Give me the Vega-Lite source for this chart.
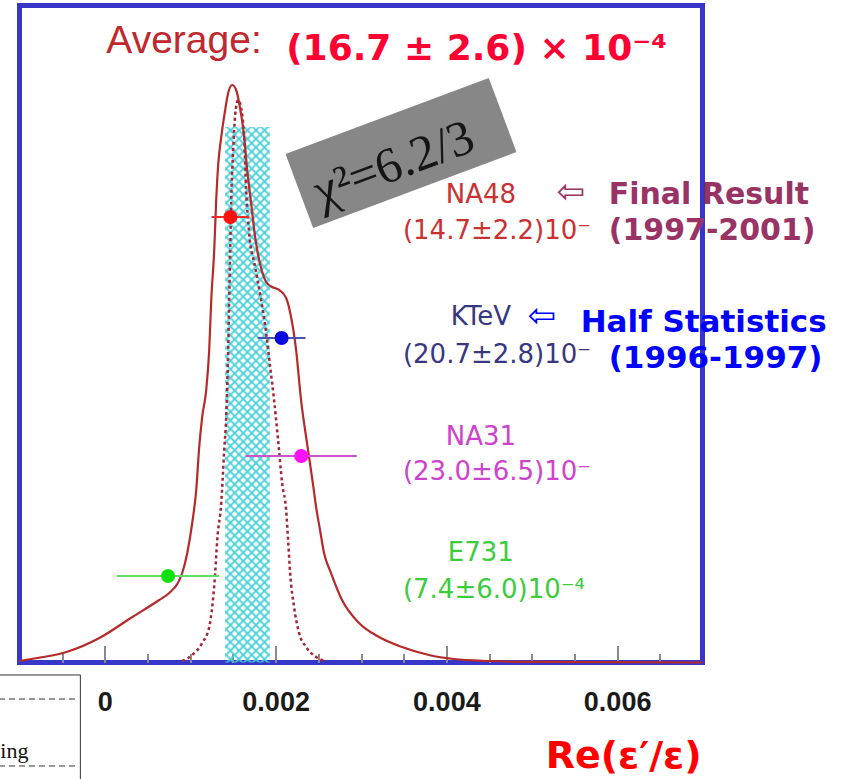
{
"$schema": "https://vega.github.io/schema/vega-lite/v6.json",
"width": 683, "height": 657,
"autosize": {"type": "none"},
"padding": {"left": 19.5, "top": 5.5, "right": 144.5, "bottom": 116.5},
"background": "#ffffff",
"config": {
  "view": {"stroke": "#3636c8", "strokeWidth": 5}
},
"datasets": {
  "band": [{"lo": 0.00141, "hi": 0.00193, "top": 0.815}],
  "solid": [
    {"x":-0.001,"y":0.0023},{"x":-0.000789,"y":0.0068},{"x":-0.00045,"y":0.016},{"x":-0.000064,"y":0.0373},
    {"x":0.000322,"y":0.0693},{"x":0.000637,"y":0.0951},{"x":0.000754,"y":0.1058},{"x":0.000848,"y":0.1195},
    {"x":0.000906,"y":0.1362},{"x":0.000965,"y":0.1667},{"x":0.001023,"y":0.2123},{"x":0.00107,"y":0.2626},
    {"x":0.001105,"y":0.328},{"x":0.00114,"y":0.3737},{"x":0.001187,"y":0.4148},{"x":0.001222,"y":0.4756},
    {"x":0.001246,"y":0.5518},{"x":0.001281,"y":0.6279},{"x":0.001304,"y":0.704},{"x":0.001327,"y":0.7572},
    {"x":0.001363,"y":0.7998},{"x":0.001409,"y":0.841},{"x":0.001444,"y":0.8668},{"x":0.001491,"y":0.879},
    {"x":0.001538,"y":0.8714},{"x":0.001573,"y":0.8516},{"x":0.001632,"y":0.7998},{"x":0.001667,"y":0.7496},
    {"x":0.001713,"y":0.6994},{"x":0.001749,"y":0.6583},{"x":0.001784,"y":0.6279},{"x":0.00183,"y":0.6005},
    {"x":0.001889,"y":0.5791},{"x":0.001959,"y":0.5715},{"x":0.002041,"y":0.567},{"x":0.002123,"y":0.5548},
    {"x":0.002181,"y":0.5259},{"x":0.00224,"y":0.4756},{"x":0.002298,"y":0.3995},{"x":0.002345,"y":0.3539},
    {"x":0.002392,"y":0.3128},{"x":0.002439,"y":0.2702},{"x":0.002474,"y":0.2367},{"x":0.00252,"y":0.2017},
    {"x":0.002567,"y":0.1667},{"x":0.002649,"y":0.1362},{"x":0.002778,"y":0.0951},{"x":0.002977,"y":0.0601},
    {"x":0.003211,"y":0.0388},{"x":0.00348,"y":0.0236},{"x":0.003795,"y":0.0114},{"x":0.004088,"y":0.0053},
    {"x":0.004497,"y":0.0023},{"x":0.005082,"y":0.0008},{"x":0.007,"y":0.0}
  ],
  "dotted": [
    {"x":0.000906,"y":0.0023},{"x":0.001023,"y":0.0114},{"x":0.00114,"y":0.0297},{"x":0.001222,"y":0.054},
    {"x":0.001257,"y":0.0845},{"x":0.001292,"y":0.1362},{"x":0.001316,"y":0.1865},{"x":0.001363,"y":0.2428},
    {"x":0.001398,"y":0.3234},{"x":0.001421,"y":0.3737},{"x":0.001444,"y":0.4756},{"x":0.001456,"y":0.5518},
    {"x":0.001468,"y":0.6279},{"x":0.00148,"y":0.704},{"x":0.001503,"y":0.78},{"x":0.001526,"y":0.8333},
    {"x":0.001561,"y":0.8562},{"x":0.001596,"y":0.844},{"x":0.001632,"y":0.7953},{"x":0.001655,"y":0.7192},
    {"x":0.00169,"y":0.6537},{"x":0.00176,"y":0.602},{"x":0.00183,"y":0.5518},{"x":0.001889,"y":0.5015},
    {"x":0.001936,"y":0.4498},{"x":0.001982,"y":0.3995},{"x":0.002029,"y":0.3387},{"x":0.002076,"y":0.2732},
    {"x":0.002123,"y":0.2321},{"x":0.002146,"y":0.1865},{"x":0.00217,"y":0.1362},{"x":0.002216,"y":0.0845},
    {"x":0.002275,"y":0.0449},{"x":0.002357,"y":0.0236},{"x":0.002474,"y":0.0084},{"x":0.002567,"y":0.0023}
  ],
  "exp": [
    {"exp":"NA48","value":0.00147,"lo":0.00125,"hi":0.00169,"y":0.678},
    {"exp":"KTeV","value":0.00207,"lo":0.00179,"hi":0.00235,"y":0.4939},
    {"exp":"NA31","value":0.0023,"lo":0.00165,"hi":0.00295,"y":0.3143},
    {"exp":"E731","value":0.00074,"lo":0.00014,"hi":0.00134,"y":0.1317}
  ],
  "names": [
    {"exp":"NA48","label":"NA48","x":0.004404,"y":0.7116},
    {"exp":"KTeV","label":"KTeV","x":0.004404,"y":0.5259},
    {"exp":"NA31","label":"NA31","x":0.004404,"y":0.3432},
    {"exp":"E731","label":"E731","x":0.004404,"y":0.1667}
  ],
  "vals": [
    {"exp":"NA48","label":"(14.7±2.2)10⁻","x":0.003491,"y":0.6568},
    {"exp":"KTeV","label":"(20.7±2.8)10⁻","x":0.003491,"y":0.468},
    {"exp":"NA31","label":"(23.0±6.5)10⁻","x":0.003491,"y":0.29},
    {"exp":"E731","label":"(7.4±6.0)10⁻⁴","x":0.003491,"y":0.1104}
  ]
},
"resolve": {"scale": {"color": "independent"}, "axis": {"x": "independent"}},
"layer": [
  {
    "data": {"name": "band"},
    "mark": {"type": "rect", "strokeWidth": 0, "fill": {"gradient": "linear", "x1": 0, "y1": 1, "x2": 0.0894, "y2": -0.0757, "stops": [
{"offset":0,"color":"#48cfd8"},{"offset":0.0044,"color":"#48cfd800"},{"offset":0.0103,"color":"#48cfd800"},
{"offset":0.0147,"color":"#48cfd8"},{"offset":0.0191,"color":"#48cfd800"},{"offset":0.025,"color":"#48cfd800"},
{"offset":0.0294,"color":"#48cfd8"},{"offset":0.0338,"color":"#48cfd800"},{"offset":0.0397,"color":"#48cfd800"},
{"offset":0.0441,"color":"#48cfd8"},{"offset":0.0485,"color":"#48cfd800"},{"offset":0.0544,"color":"#48cfd800"},
{"offset":0.0588,"color":"#48cfd8"},{"offset":0.0632,"color":"#48cfd800"},{"offset":0.0691,"color":"#48cfd800"},
{"offset":0.0735,"color":"#48cfd8"},{"offset":0.0779,"color":"#48cfd800"},{"offset":0.0838,"color":"#48cfd800"},
{"offset":0.0882,"color":"#48cfd8"},{"offset":0.0926,"color":"#48cfd800"},{"offset":0.0985,"color":"#48cfd800"},
{"offset":0.1029,"color":"#48cfd8"},{"offset":0.1073,"color":"#48cfd800"},{"offset":0.1132,"color":"#48cfd800"},
{"offset":0.1176,"color":"#48cfd8"},{"offset":0.122,"color":"#48cfd800"},{"offset":0.1279,"color":"#48cfd800"},
{"offset":0.1324,"color":"#48cfd8"},{"offset":0.1368,"color":"#48cfd800"},{"offset":0.1427,"color":"#48cfd800"},
{"offset":0.1471,"color":"#48cfd8"},{"offset":0.1515,"color":"#48cfd800"},{"offset":0.1574,"color":"#48cfd800"},
{"offset":0.1618,"color":"#48cfd8"},{"offset":0.1662,"color":"#48cfd800"},{"offset":0.1721,"color":"#48cfd800"},
{"offset":0.1765,"color":"#48cfd8"},{"offset":0.1809,"color":"#48cfd800"},{"offset":0.1868,"color":"#48cfd800"},
{"offset":0.1912,"color":"#48cfd8"},{"offset":0.1956,"color":"#48cfd800"},{"offset":0.2015,"color":"#48cfd800"},
{"offset":0.2059,"color":"#48cfd8"},{"offset":0.2103,"color":"#48cfd800"},{"offset":0.2162,"color":"#48cfd800"},
{"offset":0.2206,"color":"#48cfd8"},{"offset":0.225,"color":"#48cfd800"},{"offset":0.2309,"color":"#48cfd800"},
{"offset":0.2353,"color":"#48cfd8"},{"offset":0.2397,"color":"#48cfd800"},{"offset":0.2456,"color":"#48cfd800"},
{"offset":0.25,"color":"#48cfd8"},{"offset":0.2544,"color":"#48cfd800"},{"offset":0.2603,"color":"#48cfd800"},
{"offset":0.2647,"color":"#48cfd8"},{"offset":0.2691,"color":"#48cfd800"},{"offset":0.275,"color":"#48cfd800"},
{"offset":0.2794,"color":"#48cfd8"},{"offset":0.2838,"color":"#48cfd800"},{"offset":0.2897,"color":"#48cfd800"},
{"offset":0.2941,"color":"#48cfd8"},{"offset":0.2985,"color":"#48cfd800"},{"offset":0.3044,"color":"#48cfd800"},
{"offset":0.3088,"color":"#48cfd8"},{"offset":0.3132,"color":"#48cfd800"},{"offset":0.3191,"color":"#48cfd800"},
{"offset":0.3235,"color":"#48cfd8"},{"offset":0.3279,"color":"#48cfd800"},{"offset":0.3338,"color":"#48cfd800"},
{"offset":0.3382,"color":"#48cfd8"},{"offset":0.3426,"color":"#48cfd800"},{"offset":0.3485,"color":"#48cfd800"},
{"offset":0.3529,"color":"#48cfd8"},{"offset":0.3573,"color":"#48cfd800"},{"offset":0.3632,"color":"#48cfd800"},
{"offset":0.3676,"color":"#48cfd8"},{"offset":0.372,"color":"#48cfd800"},{"offset":0.3779,"color":"#48cfd800"},
{"offset":0.3824,"color":"#48cfd8"},{"offset":0.3868,"color":"#48cfd800"},{"offset":0.3927,"color":"#48cfd800"},
{"offset":0.3971,"color":"#48cfd8"},{"offset":0.4015,"color":"#48cfd800"},{"offset":0.4074,"color":"#48cfd800"},
{"offset":0.4118,"color":"#48cfd8"},{"offset":0.4162,"color":"#48cfd800"},{"offset":0.4221,"color":"#48cfd800"},
{"offset":0.4265,"color":"#48cfd8"},{"offset":0.4309,"color":"#48cfd800"},{"offset":0.4368,"color":"#48cfd800"},
{"offset":0.4412,"color":"#48cfd8"},{"offset":0.4456,"color":"#48cfd800"},{"offset":0.4515,"color":"#48cfd800"},
{"offset":0.4559,"color":"#48cfd8"},{"offset":0.4603,"color":"#48cfd800"},{"offset":0.4662,"color":"#48cfd800"},
{"offset":0.4706,"color":"#48cfd8"},{"offset":0.475,"color":"#48cfd800"},{"offset":0.4809,"color":"#48cfd800"},
{"offset":0.4853,"color":"#48cfd8"},{"offset":0.4897,"color":"#48cfd800"},{"offset":0.4956,"color":"#48cfd800"},
{"offset":0.5,"color":"#48cfd8"},{"offset":0.5044,"color":"#48cfd800"},{"offset":0.5103,"color":"#48cfd800"},
{"offset":0.5147,"color":"#48cfd8"},{"offset":0.5191,"color":"#48cfd800"},{"offset":0.525,"color":"#48cfd800"},
{"offset":0.5294,"color":"#48cfd8"},{"offset":0.5338,"color":"#48cfd800"},{"offset":0.5397,"color":"#48cfd800"},
{"offset":0.5441,"color":"#48cfd8"},{"offset":0.5485,"color":"#48cfd800"},{"offset":0.5544,"color":"#48cfd800"},
{"offset":0.5588,"color":"#48cfd8"},{"offset":0.5632,"color":"#48cfd800"},{"offset":0.5691,"color":"#48cfd800"},
{"offset":0.5735,"color":"#48cfd8"},{"offset":0.5779,"color":"#48cfd800"},{"offset":0.5838,"color":"#48cfd800"},
{"offset":0.5882,"color":"#48cfd8"},{"offset":0.5926,"color":"#48cfd800"},{"offset":0.5985,"color":"#48cfd800"},
{"offset":0.6029,"color":"#48cfd8"},{"offset":0.6073,"color":"#48cfd800"},{"offset":0.6132,"color":"#48cfd800"},
{"offset":0.6176,"color":"#48cfd8"},{"offset":0.622,"color":"#48cfd800"},{"offset":0.6279,"color":"#48cfd800"},
{"offset":0.6324,"color":"#48cfd8"},{"offset":0.6368,"color":"#48cfd800"},{"offset":0.6427,"color":"#48cfd800"},
{"offset":0.6471,"color":"#48cfd8"},{"offset":0.6515,"color":"#48cfd800"},{"offset":0.6574,"color":"#48cfd800"},
{"offset":0.6618,"color":"#48cfd8"},{"offset":0.6662,"color":"#48cfd800"},{"offset":0.6721,"color":"#48cfd800"},
{"offset":0.6765,"color":"#48cfd8"},{"offset":0.6809,"color":"#48cfd800"},{"offset":0.6868,"color":"#48cfd800"},
{"offset":0.6912,"color":"#48cfd8"},{"offset":0.6956,"color":"#48cfd800"},{"offset":0.7015,"color":"#48cfd800"},
{"offset":0.7059,"color":"#48cfd8"},{"offset":0.7103,"color":"#48cfd800"},{"offset":0.7162,"color":"#48cfd800"},
{"offset":0.7206,"color":"#48cfd8"},{"offset":0.725,"color":"#48cfd800"},{"offset":0.7309,"color":"#48cfd800"},
{"offset":0.7353,"color":"#48cfd8"},{"offset":0.7397,"color":"#48cfd800"},{"offset":0.7456,"color":"#48cfd800"},
{"offset":0.75,"color":"#48cfd8"},{"offset":0.7544,"color":"#48cfd800"},{"offset":0.7603,"color":"#48cfd800"},
{"offset":0.7647,"color":"#48cfd8"},{"offset":0.7691,"color":"#48cfd800"},{"offset":0.775,"color":"#48cfd800"},
{"offset":0.7794,"color":"#48cfd8"},{"offset":0.7838,"color":"#48cfd800"},{"offset":0.7897,"color":"#48cfd800"},
{"offset":0.7941,"color":"#48cfd8"},{"offset":0.7985,"color":"#48cfd800"},{"offset":0.8044,"color":"#48cfd800"},
{"offset":0.8088,"color":"#48cfd8"},{"offset":0.8132,"color":"#48cfd800"},{"offset":0.8191,"color":"#48cfd800"},
{"offset":0.8235,"color":"#48cfd8"},{"offset":0.8279,"color":"#48cfd800"},{"offset":0.8338,"color":"#48cfd800"},
{"offset":0.8382,"color":"#48cfd8"},{"offset":0.8426,"color":"#48cfd800"},{"offset":0.8485,"color":"#48cfd800"},
{"offset":0.8529,"color":"#48cfd8"},{"offset":0.8573,"color":"#48cfd800"},{"offset":0.8632,"color":"#48cfd800"},
{"offset":0.8676,"color":"#48cfd8"},{"offset":0.872,"color":"#48cfd800"},{"offset":0.8779,"color":"#48cfd800"},
{"offset":0.8824,"color":"#48cfd8"},{"offset":0.8868,"color":"#48cfd800"},{"offset":0.8927,"color":"#48cfd800"},
{"offset":0.8971,"color":"#48cfd8"},{"offset":0.9015,"color":"#48cfd800"},{"offset":0.9074,"color":"#48cfd800"},
{"offset":0.9118,"color":"#48cfd8"},{"offset":0.9162,"color":"#48cfd800"},{"offset":0.9221,"color":"#48cfd800"},
{"offset":0.9265,"color":"#48cfd8"},{"offset":0.9309,"color":"#48cfd800"},{"offset":0.9368,"color":"#48cfd800"},
{"offset":0.9412,"color":"#48cfd8"},{"offset":0.9456,"color":"#48cfd800"},{"offset":0.9515,"color":"#48cfd800"},
{"offset":0.9559,"color":"#48cfd8"},{"offset":0.9603,"color":"#48cfd800"},{"offset":0.9662,"color":"#48cfd800"},
{"offset":0.9706,"color":"#48cfd8"},{"offset":0.975,"color":"#48cfd800"},{"offset":0.9809,"color":"#48cfd800"},
{"offset":0.9853,"color":"#48cfd8"},{"offset":0.9897,"color":"#48cfd800"},{"offset":0.9956,"color":"#48cfd800"},
{"offset":1,"color":"#48cfd8"}]}},
    "encoding": {
      "x": {"field": "lo", "type": "quantitative", "scale": {"domain": [-0.001, 0.007], "nice": false, "zero": false},
        "axis": {"orient": "bottom", "values": [0, 0.002, 0.004, 0.006], "format": ".3~f", "domain": false, "grid": false,
          "tickSize": -17, "tickWidth": 2, "tickColor": "#8a8a8a", "labelFont": "Liberation Sans", "labelFontWeight": "bold", "labelFontSize": 27,
          "labelColor": "#1a1a1a", "labelBaseline": "middle", "labelPadding": 56.5, "labelFlush": false, "title": null}},
      "x2": {"field": "hi"},
      "y": {"field": "top", "type": "quantitative", "scale": {"domain": [0, 1], "nice": false, "zero": false}, "axis": null},
      "y2": {"datum": 0}
    }
  },
  {
    "data": {"name": "band"},
    "mark": {"type": "rect", "strokeWidth": 0, "fill": {"gradient": "linear", "x1": 0, "y1": 0, "x2": 0.0894, "y2": 1.0757, "stops": [
{"offset":0,"color":"#48cfd8"},{"offset":0.0044,"color":"#48cfd800"},{"offset":0.0103,"color":"#48cfd800"},
{"offset":0.0147,"color":"#48cfd8"},{"offset":0.0191,"color":"#48cfd800"},{"offset":0.025,"color":"#48cfd800"},
{"offset":0.0294,"color":"#48cfd8"},{"offset":0.0338,"color":"#48cfd800"},{"offset":0.0397,"color":"#48cfd800"},
{"offset":0.0441,"color":"#48cfd8"},{"offset":0.0485,"color":"#48cfd800"},{"offset":0.0544,"color":"#48cfd800"},
{"offset":0.0588,"color":"#48cfd8"},{"offset":0.0632,"color":"#48cfd800"},{"offset":0.0691,"color":"#48cfd800"},
{"offset":0.0735,"color":"#48cfd8"},{"offset":0.0779,"color":"#48cfd800"},{"offset":0.0838,"color":"#48cfd800"},
{"offset":0.0882,"color":"#48cfd8"},{"offset":0.0926,"color":"#48cfd800"},{"offset":0.0985,"color":"#48cfd800"},
{"offset":0.1029,"color":"#48cfd8"},{"offset":0.1073,"color":"#48cfd800"},{"offset":0.1132,"color":"#48cfd800"},
{"offset":0.1176,"color":"#48cfd8"},{"offset":0.122,"color":"#48cfd800"},{"offset":0.1279,"color":"#48cfd800"},
{"offset":0.1324,"color":"#48cfd8"},{"offset":0.1368,"color":"#48cfd800"},{"offset":0.1427,"color":"#48cfd800"},
{"offset":0.1471,"color":"#48cfd8"},{"offset":0.1515,"color":"#48cfd800"},{"offset":0.1574,"color":"#48cfd800"},
{"offset":0.1618,"color":"#48cfd8"},{"offset":0.1662,"color":"#48cfd800"},{"offset":0.1721,"color":"#48cfd800"},
{"offset":0.1765,"color":"#48cfd8"},{"offset":0.1809,"color":"#48cfd800"},{"offset":0.1868,"color":"#48cfd800"},
{"offset":0.1912,"color":"#48cfd8"},{"offset":0.1956,"color":"#48cfd800"},{"offset":0.2015,"color":"#48cfd800"},
{"offset":0.2059,"color":"#48cfd8"},{"offset":0.2103,"color":"#48cfd800"},{"offset":0.2162,"color":"#48cfd800"},
{"offset":0.2206,"color":"#48cfd8"},{"offset":0.225,"color":"#48cfd800"},{"offset":0.2309,"color":"#48cfd800"},
{"offset":0.2353,"color":"#48cfd8"},{"offset":0.2397,"color":"#48cfd800"},{"offset":0.2456,"color":"#48cfd800"},
{"offset":0.25,"color":"#48cfd8"},{"offset":0.2544,"color":"#48cfd800"},{"offset":0.2603,"color":"#48cfd800"},
{"offset":0.2647,"color":"#48cfd8"},{"offset":0.2691,"color":"#48cfd800"},{"offset":0.275,"color":"#48cfd800"},
{"offset":0.2794,"color":"#48cfd8"},{"offset":0.2838,"color":"#48cfd800"},{"offset":0.2897,"color":"#48cfd800"},
{"offset":0.2941,"color":"#48cfd8"},{"offset":0.2985,"color":"#48cfd800"},{"offset":0.3044,"color":"#48cfd800"},
{"offset":0.3088,"color":"#48cfd8"},{"offset":0.3132,"color":"#48cfd800"},{"offset":0.3191,"color":"#48cfd800"},
{"offset":0.3235,"color":"#48cfd8"},{"offset":0.3279,"color":"#48cfd800"},{"offset":0.3338,"color":"#48cfd800"},
{"offset":0.3382,"color":"#48cfd8"},{"offset":0.3426,"color":"#48cfd800"},{"offset":0.3485,"color":"#48cfd800"},
{"offset":0.3529,"color":"#48cfd8"},{"offset":0.3573,"color":"#48cfd800"},{"offset":0.3632,"color":"#48cfd800"},
{"offset":0.3676,"color":"#48cfd8"},{"offset":0.372,"color":"#48cfd800"},{"offset":0.3779,"color":"#48cfd800"},
{"offset":0.3824,"color":"#48cfd8"},{"offset":0.3868,"color":"#48cfd800"},{"offset":0.3927,"color":"#48cfd800"},
{"offset":0.3971,"color":"#48cfd8"},{"offset":0.4015,"color":"#48cfd800"},{"offset":0.4074,"color":"#48cfd800"},
{"offset":0.4118,"color":"#48cfd8"},{"offset":0.4162,"color":"#48cfd800"},{"offset":0.4221,"color":"#48cfd800"},
{"offset":0.4265,"color":"#48cfd8"},{"offset":0.4309,"color":"#48cfd800"},{"offset":0.4368,"color":"#48cfd800"},
{"offset":0.4412,"color":"#48cfd8"},{"offset":0.4456,"color":"#48cfd800"},{"offset":0.4515,"color":"#48cfd800"},
{"offset":0.4559,"color":"#48cfd8"},{"offset":0.4603,"color":"#48cfd800"},{"offset":0.4662,"color":"#48cfd800"},
{"offset":0.4706,"color":"#48cfd8"},{"offset":0.475,"color":"#48cfd800"},{"offset":0.4809,"color":"#48cfd800"},
{"offset":0.4853,"color":"#48cfd8"},{"offset":0.4897,"color":"#48cfd800"},{"offset":0.4956,"color":"#48cfd800"},
{"offset":0.5,"color":"#48cfd8"},{"offset":0.5044,"color":"#48cfd800"},{"offset":0.5103,"color":"#48cfd800"},
{"offset":0.5147,"color":"#48cfd8"},{"offset":0.5191,"color":"#48cfd800"},{"offset":0.525,"color":"#48cfd800"},
{"offset":0.5294,"color":"#48cfd8"},{"offset":0.5338,"color":"#48cfd800"},{"offset":0.5397,"color":"#48cfd800"},
{"offset":0.5441,"color":"#48cfd8"},{"offset":0.5485,"color":"#48cfd800"},{"offset":0.5544,"color":"#48cfd800"},
{"offset":0.5588,"color":"#48cfd8"},{"offset":0.5632,"color":"#48cfd800"},{"offset":0.5691,"color":"#48cfd800"},
{"offset":0.5735,"color":"#48cfd8"},{"offset":0.5779,"color":"#48cfd800"},{"offset":0.5838,"color":"#48cfd800"},
{"offset":0.5882,"color":"#48cfd8"},{"offset":0.5926,"color":"#48cfd800"},{"offset":0.5985,"color":"#48cfd800"},
{"offset":0.6029,"color":"#48cfd8"},{"offset":0.6073,"color":"#48cfd800"},{"offset":0.6132,"color":"#48cfd800"},
{"offset":0.6176,"color":"#48cfd8"},{"offset":0.622,"color":"#48cfd800"},{"offset":0.6279,"color":"#48cfd800"},
{"offset":0.6324,"color":"#48cfd8"},{"offset":0.6368,"color":"#48cfd800"},{"offset":0.6427,"color":"#48cfd800"},
{"offset":0.6471,"color":"#48cfd8"},{"offset":0.6515,"color":"#48cfd800"},{"offset":0.6574,"color":"#48cfd800"},
{"offset":0.6618,"color":"#48cfd8"},{"offset":0.6662,"color":"#48cfd800"},{"offset":0.6721,"color":"#48cfd800"},
{"offset":0.6765,"color":"#48cfd8"},{"offset":0.6809,"color":"#48cfd800"},{"offset":0.6868,"color":"#48cfd800"},
{"offset":0.6912,"color":"#48cfd8"},{"offset":0.6956,"color":"#48cfd800"},{"offset":0.7015,"color":"#48cfd800"},
{"offset":0.7059,"color":"#48cfd8"},{"offset":0.7103,"color":"#48cfd800"},{"offset":0.7162,"color":"#48cfd800"},
{"offset":0.7206,"color":"#48cfd8"},{"offset":0.725,"color":"#48cfd800"},{"offset":0.7309,"color":"#48cfd800"},
{"offset":0.7353,"color":"#48cfd8"},{"offset":0.7397,"color":"#48cfd800"},{"offset":0.7456,"color":"#48cfd800"},
{"offset":0.75,"color":"#48cfd8"},{"offset":0.7544,"color":"#48cfd800"},{"offset":0.7603,"color":"#48cfd800"},
{"offset":0.7647,"color":"#48cfd8"},{"offset":0.7691,"color":"#48cfd800"},{"offset":0.775,"color":"#48cfd800"},
{"offset":0.7794,"color":"#48cfd8"},{"offset":0.7838,"color":"#48cfd800"},{"offset":0.7897,"color":"#48cfd800"},
{"offset":0.7941,"color":"#48cfd8"},{"offset":0.7985,"color":"#48cfd800"},{"offset":0.8044,"color":"#48cfd800"},
{"offset":0.8088,"color":"#48cfd8"},{"offset":0.8132,"color":"#48cfd800"},{"offset":0.8191,"color":"#48cfd800"},
{"offset":0.8235,"color":"#48cfd8"},{"offset":0.8279,"color":"#48cfd800"},{"offset":0.8338,"color":"#48cfd800"},
{"offset":0.8382,"color":"#48cfd8"},{"offset":0.8426,"color":"#48cfd800"},{"offset":0.8485,"color":"#48cfd800"},
{"offset":0.8529,"color":"#48cfd8"},{"offset":0.8573,"color":"#48cfd800"},{"offset":0.8632,"color":"#48cfd800"},
{"offset":0.8676,"color":"#48cfd8"},{"offset":0.872,"color":"#48cfd800"},{"offset":0.8779,"color":"#48cfd800"},
{"offset":0.8824,"color":"#48cfd8"},{"offset":0.8868,"color":"#48cfd800"},{"offset":0.8927,"color":"#48cfd800"},
{"offset":0.8971,"color":"#48cfd8"},{"offset":0.9015,"color":"#48cfd800"},{"offset":0.9074,"color":"#48cfd800"},
{"offset":0.9118,"color":"#48cfd8"},{"offset":0.9162,"color":"#48cfd800"},{"offset":0.9221,"color":"#48cfd800"},
{"offset":0.9265,"color":"#48cfd8"},{"offset":0.9309,"color":"#48cfd800"},{"offset":0.9368,"color":"#48cfd800"},
{"offset":0.9412,"color":"#48cfd8"},{"offset":0.9456,"color":"#48cfd800"},{"offset":0.9515,"color":"#48cfd800"},
{"offset":0.9559,"color":"#48cfd8"},{"offset":0.9603,"color":"#48cfd800"},{"offset":0.9662,"color":"#48cfd800"},
{"offset":0.9706,"color":"#48cfd8"},{"offset":0.975,"color":"#48cfd800"},{"offset":0.9809,"color":"#48cfd800"},
{"offset":0.9853,"color":"#48cfd8"},{"offset":0.9897,"color":"#48cfd800"},{"offset":0.9956,"color":"#48cfd800"},
{"offset":1,"color":"#48cfd8"}]}},
    "encoding": {
      "x": {"field": "lo", "type": "quantitative", "axis": null},
      "x2": {"field": "hi"},
      "y": {"field": "top", "type": "quantitative", "axis": null},
      "y2": {"datum": 0}
    }
  },
  {
    "data": {"values": [{"x": 0.003468, "y": 0.7755}]},
    "mark": {"type": "point", "shape": "M-1,-0.364L1,-0.364L1,0.364L-1,0.364Z", "size": 47089, "angle": -20.5, "filled": true, "color": "#878787", "opacity": 1, "strokeWidth": 0},
    "encoding": {
      "x": {"field": "x", "type": "quantitative", "axis": null},
      "y": {"field": "y", "type": "quantitative", "axis": null}
    }
  },
  {
    "data": {"values": [{"label": "χ²=6.2/3", "x": 0.003386, "y": 0.7572}]},
    "mark": {"type": "text", "font": "Liberation Serif", "fontSize": 50, "angle": -20.5, "align": "center", "baseline": "middle", "color": "#151515"},
    "encoding": {
      "x": {"field": "x", "type": "quantitative", "axis": null},
      "y": {"field": "y", "type": "quantitative", "axis": null},
      "text": {"field": "label"}
    }
  },
  {
    "data": {"name": "dotted"},
    "mark": {"type": "line", "interpolate": "monotone", "color": "#a32635", "strokeWidth": 2.5, "strokeDash": [3, 3]},
    "encoding": {
      "x": {"field": "x", "type": "quantitative",
        "axis": {"orient": "bottom", "values": [-0.0005, 0.0005, 0.001, 0.0015, 0.0025, 0.003, 0.0035, 0.0045, 0.005, 0.0055, 0.0065],
          "labels": false, "domain": false, "grid": false, "tickSize": -9, "tickWidth": 2, "tickColor": "#8a8a8a", "title": null}},
      "y": {"field": "y", "type": "quantitative", "axis": null}
    }
  },
  {
    "data": {"name": "solid"},
    "mark": {"type": "line", "interpolate": "monotone", "color": "#b52a2a", "strokeWidth": 2.2},
    "encoding": {
      "x": {"field": "x", "type": "quantitative", "axis": null},
      "y": {"field": "y", "type": "quantitative", "axis": null}
    }
  },
  {
    "data": {"name": "exp"},
    "mark": {"type": "rule", "strokeWidth": 2},
    "encoding": {
      "x": {"field": "lo", "type": "quantitative", "axis": null},
      "x2": {"field": "hi"},
      "y": {"field": "y", "type": "quantitative", "axis": null},
      "color": {"field": "exp", "type": "nominal", "legend": null,
        "scale": {"domain": ["NA48", "KTeV", "NA31", "E731"], "range": ["#ee2b2b", "#5050b0", "#cc55cc", "#66dd66"]}}
    }
  },
  {
    "data": {"name": "exp"},
    "mark": {"type": "point", "shape": "circle", "filled": true, "size": 200, "opacity": 1},
    "encoding": {
      "x": {"field": "value", "type": "quantitative", "axis": null},
      "y": {"field": "y", "type": "quantitative", "axis": null},
      "color": {"field": "exp", "type": "nominal", "legend": null,
        "scale": {"domain": ["NA48", "KTeV", "NA31", "E731"], "range": ["#ff1111", "#0a0ae0", "#ff10ff", "#11e011"]}}
    }
  },
  {
    "data": {"name": "names"},
    "mark": {"type": "text", "font": "DejaVu Sans", "fontSize": 26, "align": "center", "baseline": "middle"},
    "encoding": {
      "x": {"field": "x", "type": "quantitative", "axis": null},
      "y": {"field": "y", "type": "quantitative", "axis": null},
      "text": {"field": "label"},
      "color": {"field": "exp", "type": "nominal", "legend": null,
        "scale": {"domain": ["NA48", "KTeV", "NA31", "E731"], "range": ["#c83232", "#383880", "#cc44cc", "#3ccc3c"]}}
    }
  },
  {
    "data": {"name": "vals"},
    "mark": {"type": "text", "font": "DejaVu Sans", "fontSize": 26, "align": "left", "baseline": "middle"},
    "encoding": {
      "x": {"field": "x", "type": "quantitative", "axis": null},
      "y": {"field": "y", "type": "quantitative", "axis": null},
      "text": {"field": "label"},
      "color": {"field": "exp", "type": "nominal", "legend": null,
        "scale": {"domain": ["NA48", "KTeV", "NA31", "E731"], "range": ["#c83232", "#383880", "#cc44cc", "#3ccc3c"]}}
    }
  },
  {
    "data": {"values": [{"label": "Average:", "x": 0.0000175, "y": 0.9277}]},
    "mark": {"type": "text", "font": "Liberation Sans", "fontSize": 39, "align": "left", "baseline": "alphabetic", "color": "#c0282e"},
    "encoding": {
      "x": {"field": "x", "type": "quantitative", "axis": null},
      "y": {"field": "y", "type": "quantitative", "axis": null},
      "text": {"field": "label"}
    }
  },
  {
    "data": {"values": [{"label": "(16.7 ± 2.6) × 10⁻⁴", "x": 0.002123, "y": 0.917}]},
    "mark": {"type": "text", "font": "DejaVu Sans", "fontWeight": "bold", "fontSize": 36, "align": "left", "baseline": "alphabetic", "color": "#ff0033"},
    "encoding": {
      "x": {"field": "x", "type": "quantitative", "axis": null},
      "y": {"field": "y", "type": "quantitative", "axis": null},
      "text": {"field": "label"}
    }
  },
  {
    "data": {"values": [
      {"label": "Final Result", "x": 0.005901, "y": 0.6979},
      {"label": "(1997-2001)", "x": 0.005901, "y": 0.643}
    ]},
    "mark": {"type": "text", "font": "DejaVu Sans", "fontWeight": "bold", "fontSize": 30, "align": "left", "baseline": "alphabetic", "color": "#993366"},
    "encoding": {
      "x": {"field": "x", "type": "quantitative", "axis": null},
      "y": {"field": "y", "type": "quantitative", "axis": null},
      "text": {"field": "label"}
    }
  },
  {
    "data": {"values": [{"label": "⇦", "x": 0.005456, "y": 0.7146}]},
    "mark": {"type": "text", "font": "DejaVu Sans", "fontSize": 34, "align": "center", "baseline": "middle", "color": "#993366"},
    "encoding": {
      "x": {"field": "x", "type": "quantitative", "axis": null},
      "y": {"field": "y", "type": "quantitative", "axis": null},
      "text": {"field": "label"}
    }
  },
  {
    "data": {"values": [
      {"label": "Half Statistics", "x": 0.005573, "y": 0.503},
      {"label": "(1996-1997)", "x": 0.005901, "y": 0.4482}
    ]},
    "mark": {"type": "text", "font": "DejaVu Sans", "fontWeight": "bold", "fontSize": 31, "align": "left", "baseline": "alphabetic", "color": "#0000ff"},
    "encoding": {
      "x": {"field": "x", "type": "quantitative", "axis": null},
      "y": {"field": "y", "type": "quantitative", "axis": null},
      "text": {"field": "label"}
    }
  },
  {
    "data": {"values": [{"label": "⇦", "x": 0.005117, "y": 0.5259}]},
    "mark": {"type": "text", "font": "DejaVu Sans", "fontSize": 34, "align": "center", "baseline": "middle", "color": "#0000ff"},
    "encoding": {
      "x": {"field": "x", "type": "quantitative", "axis": null},
      "y": {"field": "y", "type": "quantitative", "axis": null},
      "text": {"field": "label"}
    }
  },
  {
    "data": {"values": [{"label": "Re(ε′/ε)", "x": 0.006076, "y": -0.1438}]},
    "mark": {"type": "text", "font": "DejaVu Sans", "fontWeight": "bold", "fontSize": 38, "align": "center", "baseline": "middle", "color": "#ff0000"},
    "encoding": {
      "x": {"field": "x", "type": "quantitative", "axis": null},
      "y": {"field": "y", "type": "quantitative", "axis": null},
      "text": {"field": "label"}
    }
  },
  {
    "data": {"values": [
      {"x": -0.00124, "x2": -0.000287, "y": -0.019, "y2": -0.019},
      {"x": -0.000287, "x2": -0.000287, "y": -0.019, "y2": -0.178}
    ]},
    "mark": {"type": "rule", "color": "#333333", "strokeWidth": 1},
    "encoding": {
      "x": {"field": "x", "type": "quantitative", "axis": null},
      "x2": {"field": "x2"},
      "y": {"field": "y", "type": "quantitative", "axis": null},
      "y2": {"field": "y2"}
    }
  },
  {
    "data": {"values": [
      {"x": -0.00124, "x2": -0.000345, "y": -0.0556, "y2": -0.0556},
      {"x": -0.00124, "x2": -0.000345, "y": -0.1575, "y2": -0.1575}
    ]},
    "mark": {"type": "rule", "color": "#333333", "strokeWidth": 1, "strokeDash": [6, 4]},
    "encoding": {
      "x": {"field": "x", "type": "quantitative", "axis": null},
      "x2": {"field": "x2"},
      "y": {"field": "y", "type": "quantitative", "axis": null},
      "y2": {"field": "y2"}
    }
  },
  {
    "data": {"values": [{"label": "ing", "x": -0.000895, "y": -0.1454}]},
    "mark": {"type": "text", "font": "Liberation Serif", "fontSize": 22, "align": "right", "baseline": "alphabetic", "color": "#111111"},
    "encoding": {
      "x": {"field": "x", "type": "quantitative", "axis": null},
      "y": {"field": "y", "type": "quantitative", "axis": null},
      "text": {"field": "label"}
    }
  }
]
}
